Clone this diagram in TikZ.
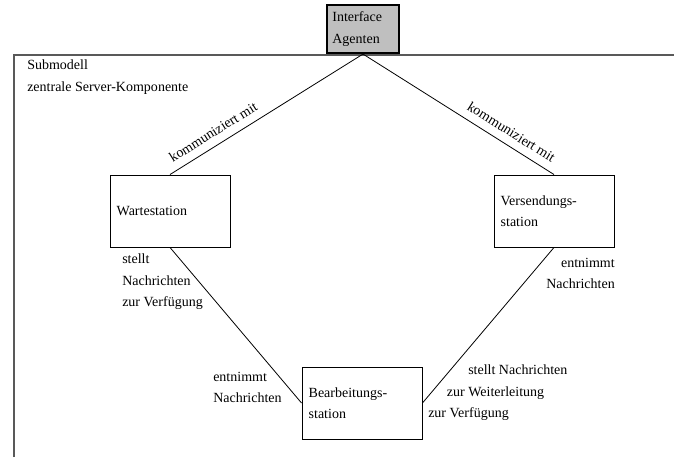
\documentclass[tikz,border=0pt]{standalone}
\usepackage{fontspec}
\setmainfont{Liberation Serif}
\usetikzlibrary{positioning}
\tikzset{
  txt/.style={font=\fontsize{10.5pt}{16pt}\selectfont},
  station/.style={txt,draw,line width=0.7pt,minimum width=90pt,minimum height=54pt,
    text width=80pt,align=left,inner sep=5pt},
  iface/.style={txt,draw,line width=1.6pt,fill=gray!50,minimum width=54pt,
    minimum height=36pt,text width=46pt,align=left,inner sep=3pt},
  lbl/.style={txt,align=left,inner sep=0pt},
  conn/.style={line width=0.6pt},
  frame/.style={line width=0.9pt,gray!70!black}
}
\begin{document}
\begin{tikzpicture}
[x=0.75pt,y=-0.75pt]
\useasboundingbox (0,0) rectangle (674,459);
% Submodell frame
\coordinate (fb) at (14,457);
\coordinate (fl) at (14,55);
\coordinate (fr) at (674,55);
\draw[frame] (fb) -- (fl) -- (fr);
\node[lbl,anchor=north west] (sub) at (27,60) {Submodell\\zentrale Server-Komponente};
% stations
\node[iface] (ia) at (363,29) {Interface\\Agenten};
\node[station] (ws) at (170,211) {Wartestation};
\node[station] (vs) at (554,211) {Versendungs-\\station};
\node[station] (bs) at (362,403) {Bearbeitungs-\\station};
% connectors
\draw[conn] (ia.south) to node[pos=0.74,sloped,above=5pt,inner sep=1pt,txt]{kommuniziert mit} (ws.north);
\draw[conn] (ia.south) to node[pos=0.74,sloped,above=5pt,inner sep=1pt,txt]{kommuniziert mit} (vs.north);
\draw[conn] (ws.south) to (bs.west);
\draw[conn] (vs.south) to (bs.east);
% labels
\node[lbl,anchor=north west] (st1) at (122,254) {stellt\\Nachrichten\\zur Verf\"ugung};
\node[lbl,anchor=north east,align=right] (en1) at (615,258) {entnimmt\\Nachrichten};
\node[lbl,anchor=north west] (en2) at (213,372) {entnimmt\\Nachrichten};
\node[lbl,anchor=north west] (st2) at (428,365) {\hspace*{30pt}stellt Nachrichten\\\hspace*{14pt}zur Weiterleitung\\zur Verf\"ugung};
\end{tikzpicture}
\end{document}
